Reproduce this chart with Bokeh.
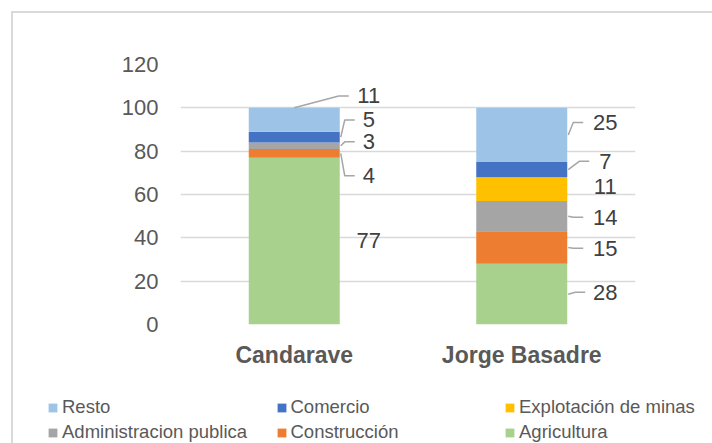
from bokeh.plotting import figure
from bokeh.layouts import column
from bokeh.models import FixedTicker, Legend, LegendItem, Range1d, ColumnDataSource
from bokeh.core.properties import value
from bokeh.embed import file_html
from bokeh.resources import INLINE

# ---------------- data ----------------
categories = ["Candarave", "Jorge Basadre"]
agricultura = [77, 28]
construccion = [4, 15]
administracion = [3, 14]
explotacion = [0, 11]
comercio = [5, 7]
resto = [11, 25]
y_ticks = [0, 20, 40, 60, 80, 100, 120]

series_names = ["Agricultura", "Construcción", "Administracion publica",
                "Explotación de minas", "Comercio", "Resto"]
series_values = [agricultura, construccion, administracion, explotacion, comercio, resto]
colors = ["#A9D18E", "#ED7D31", "#A5A5A5", "#FFC000", "#4472C4", "#9DC3E6"]

# ---------------- style / layout ----------------
FONT = "Liberation Sans"
TOTAL_W = 699
FRAME_W = 455
BAR_W = 0.4
PX = FRAME_W / 2.0  # pixels per x unit

# label vertical offset (data units) relative to segment middle, per category per series
label_dy = [
    [0.4, -10.4, 1.8, 0.0, 7.9, 11.0],
    [0.9, -0.3, -0.5, 1.0, 3.8, 5.7],
]
label_dx_px = [29, 38]  # text centre distance from bar right edge
leaders = [
    [("Construcción", "side", 14), ("Administracion publica", "side", 14),
     ("Comercio", "side", 14), ("Resto", "top", 20)],
    [("Agricultura", "side", 20), ("Construcción", "side", 22),
     ("Administracion publica", "side", 22), ("Comercio", "side", 16),
     ("Resto", "side", 22)],
]
RUN_PX = 10

p = figure(width=TOTAL_W, height=380, x_range=Range1d(-0.5, 1.5), y_range=Range1d(0, 120),
           output_backend="svg", toolbar_location=None,
           min_border_left=167, min_border_right=TOTAL_W - 167 - FRAME_W,
           min_border_top=51, min_border_bottom=69)
p.outline_line_color = None
p.background_fill_color = "white"
p.border_fill_color = "white"

src = ColumnDataSource(dict(x=list(range(len(categories))),
                            **{n: v for n, v in zip(series_names, series_values)}))
renderers = p.vbar_stack(series_names, x="x", width=BAR_W, fill_color=colors,
                         line_color=None, source=src)

# data labels and leader lines
lx, ly, lt = [], [], []
xs, ys = [], []
for i in range(len(categories)):
    bottom = 0
    info = {}
    for s, name in enumerate(series_names):
        v = series_values[s][i]
        if v == 0:
            continue
        mid = bottom + v / 2.0
        y_lab = mid + label_dy[i][s]
        x_lab = i + BAR_W / 2 + label_dx_px[i] / PX
        lx.append(x_lab)
        ly.append(y_lab)
        lt.append(str(v))
        info[name] = (bottom, bottom + v, mid, x_lab, y_lab)
        bottom += v
    for name, mode, gap in leaders[i]:
        b0, b1, mid, x_lab, y_lab = info[name]
        end_x = x_lab - gap / PX
        elbow_x = end_x - RUN_PX / PX
        if mode == "top":
            sx, sy = i, b1
        else:
            sx, sy = i + BAR_W / 2 + 1 / PX, mid
        xs.append([sx, elbow_x, end_x])
        ys.append([sy, y_lab, y_lab])

p.multi_line(xs=xs, ys=ys, line_color="#A6A6A6", line_width=1.5)
p.text(x=lx, y=ly, text=lt, text_align="center", text_baseline="middle",
       text_font=value(FONT), text_font_size="22px", text_color="#404040")

# axes
p.yaxis.ticker = FixedTicker(ticks=y_ticks)
p.yaxis.axis_line_color = None
p.yaxis.major_tick_line_color = None
p.yaxis.minor_tick_line_color = None
p.yaxis.major_tick_out = 0
p.yaxis.major_label_standoff = 22
p.yaxis.major_label_text_font = FONT
p.yaxis.major_label_text_font_size = "22px"
p.yaxis.major_label_text_color = "#595959"

p.xaxis.ticker = FixedTicker(ticks=list(range(len(categories))))
p.xaxis.major_label_overrides = {i: c for i, c in enumerate(categories)}
p.xaxis.axis_line_color = None
p.xaxis.major_tick_line_color = None
p.xaxis.minor_tick_line_color = None
p.xaxis.major_tick_out = 0
p.xaxis.major_label_standoff = 17
p.xaxis.major_label_text_font = FONT
p.xaxis.major_label_text_font_style = "bold"
p.xaxis.major_label_text_font_size = "23px"
p.xaxis.major_label_text_color = "#595959"

p.xgrid.visible = False
p.ygrid.grid_line_color = "#D9D9D9"
p.ygrid.grid_line_width = 1.5

# ---------------- legend strip ----------------
# same stacked series drawn in a strip whose y-range lies above all values,
# so only the legend keys of these renderers are visible
lp = figure(width=TOTAL_W, height=50, x_range=Range1d(-0.5, 1.5), y_range=Range1d(1000, 1001),
            output_backend="svg", toolbar_location=None, x_axis_type=None, y_axis_type=None,
            min_border=0, min_border_left=0, min_border_right=0,
            min_border_top=0, min_border_bottom=0)
lp.frame_align = False
lp.outline_line_color = None
lp.xgrid.visible = False
lp.ygrid.visible = False
lp.border_fill_color = "white"
lp.background_fill_color = "white"

proxies = lp.vbar_stack(series_names, x="x", width=BAR_W, fill_color=colors,
                        line_color=None, source=src)
proxy = dict(zip(series_names, proxies))

legend_cols = [["Resto", "Administracion publica"],
               ["Comercio", "Construcción"],
               ["Explotación de minas", "Agricultura"]]
COL_PITCH = 228.5
for c, names in enumerate(legend_cols):
    leg = Legend(items=[LegendItem(label=n, renderers=[proxy[n]]) for n in names],
                 location=(34 + c * COL_PITCH, 0), orientation="vertical",
                 glyph_width=11, glyph_height=11, label_standoff=4, label_height=21,
                 spacing=3, padding=0, margin=0, border_line_color=None,
                 background_fill_alpha=0, label_text_font=FONT,
                 label_text_font_size="18.5px", label_text_color="#595959")
    lp.add_layout(leg)

layout = column(p, lp, spacing=0, margin=(11, 0, 0, 11),
                styles={"border-top": "2px solid #D9D9D9", "border-left": "2px solid #D9D9D9"})

open("out.html", "w").write(file_html(layout, INLINE))
